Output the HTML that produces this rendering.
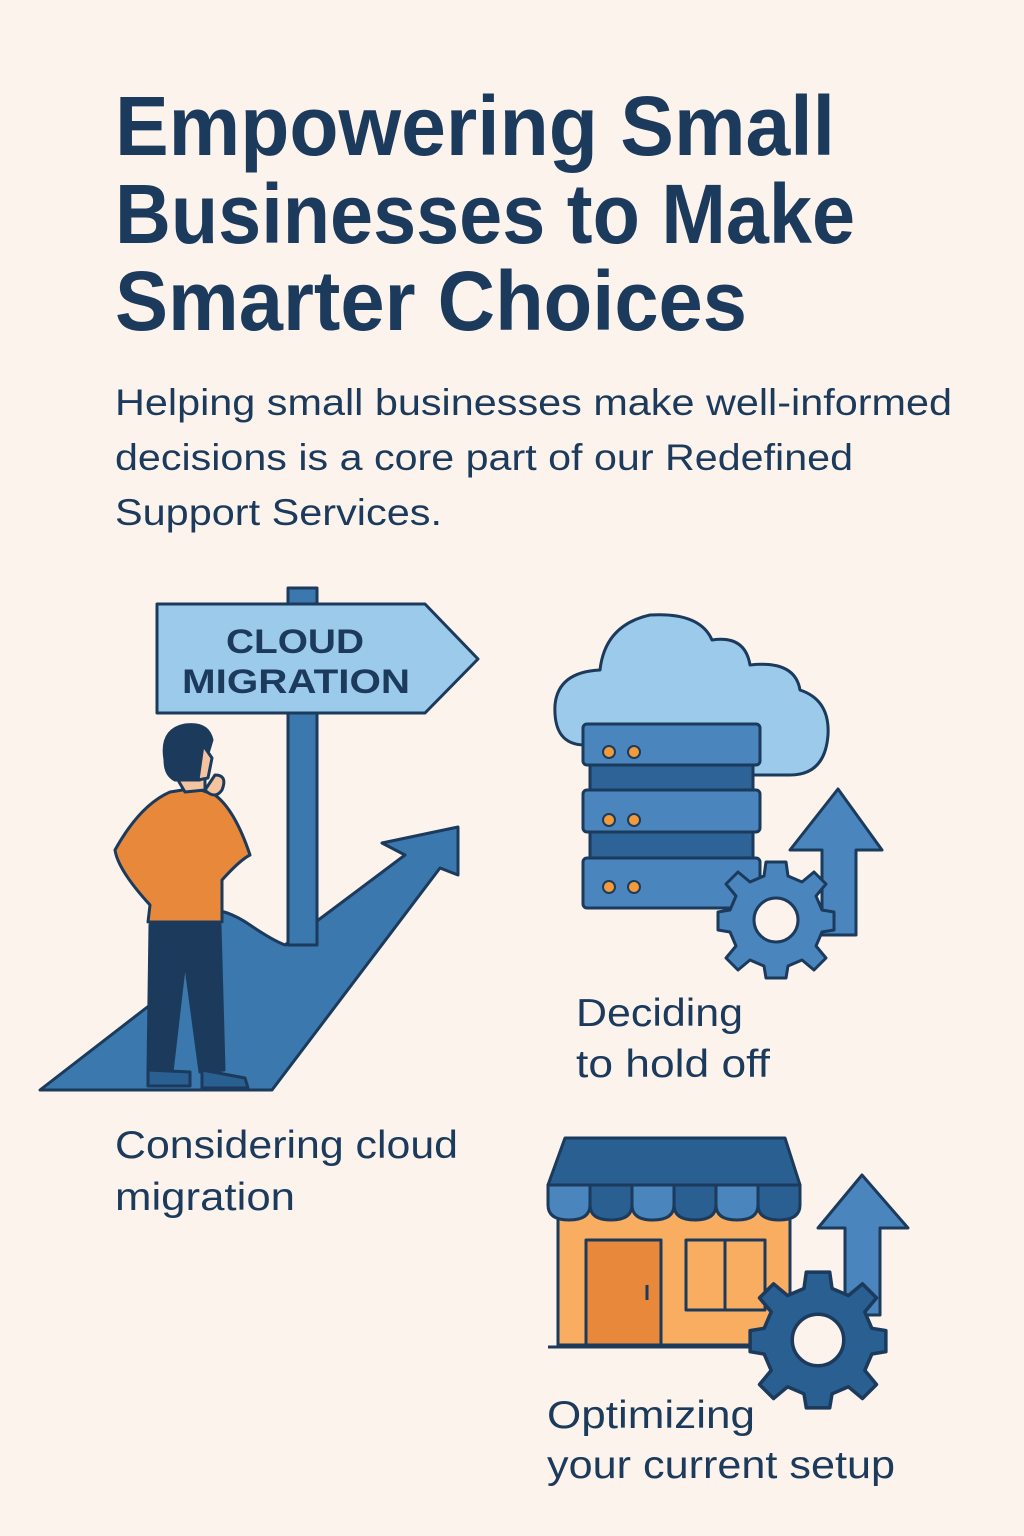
<!DOCTYPE html>
<html><head><meta charset="utf-8"><style>
html,body{margin:0;padding:0;background:#fcf4ec;}
svg{display:block;}
text{font-family:"Liberation Sans",sans-serif;fill:#1b3a5c;}
</style></head><body>
<svg width="1024" height="1536" viewBox="0 0 1024 1536" xmlns="http://www.w3.org/2000/svg">
<rect width="1024" height="1536" fill="#fcf4ec"/>
<g font-weight="bold" font-size="84">
<text x="115" y="155" textLength="720" lengthAdjust="spacingAndGlyphs">Empowering Small</text>
<text x="115" y="243" textLength="740" lengthAdjust="spacingAndGlyphs">Businesses to Make</text>
<text x="115" y="330" textLength="632" lengthAdjust="spacingAndGlyphs">Smarter Choices</text>
</g>
<g font-size="37">
<text x="115" y="415" textLength="837" lengthAdjust="spacingAndGlyphs">Helping small businesses make well-informed</text>
<text x="115" y="470" textLength="738" lengthAdjust="spacingAndGlyphs">decisions is a core part of our Redefined</text>
<text x="115" y="525" textLength="327" lengthAdjust="spacingAndGlyphs">Support Services.</text>
</g>
<g stroke="#1b3a5c" stroke-width="3" stroke-linejoin="round">
<!-- path -->
<path d="M40,1090 L150,1005 L150,930 Q200,890 250,925 Q272,940 285,945 L405,855 L382,843 L458,827 L458,875 L440,868 L272,1090 Z" fill="#3b78ad"/>
<!-- post -->
<rect x="288" y="588" width="29" height="357" fill="#3b78ad"/>
<!-- sign -->
<path d="M157,604 L425,604 L478,659 L425,713 L157,713 Z" fill="#9ccaea"/>
<!-- man -->
<path d="M150,925 L148,1070 L172,1072 L185,960 L200,1072 L224,1070 L220,925 Z" fill="#1b3a5c"/>
<path d="M148,1070 L190,1072 L190,1086 L148,1086 Z M202,1070 L245,1078 L248,1088 L202,1088 Z" fill="#2a5f92"/>
<path d="M170,792 Q140,805 115,850 Q118,870 150,905 L148,922 L222,922 L222,880 Q240,860 250,855 Q235,810 215,795 L195,788 Z" fill="#e8883a"/>
<path d="M205,790 Q215,800 222,790 Q228,775 215,775 Z" fill="#f4c4a0"/>
<path d="M175,775 L185,792 L205,790 L205,765 Z" fill="#f4c4a0"/>
<path d="M165,760 Q160,730 185,725 Q208,722 212,740 L200,780 L175,780 Q165,775 165,760 Z" fill="#1b3a5c"/>
<path d="M203,745 L212,758 L208,778 L198,780 Z" fill="#f4c4a0"/>
<!-- cloud -->
<path d="M585,745 Q553,745 555,705 Q558,672 600,670 Q605,625 650,615 Q700,612 712,640 Q745,635 750,665 Q795,660 800,690 Q830,700 828,735 Q825,775 790,775 L600,775 Z" fill="#9ccaea"/>
<!-- server -->
<rect x="583" y="724" width="177" height="41" rx="4" fill="#4a86bd"/>
<rect x="583" y="790" width="177" height="42" rx="4" fill="#4a86bd"/>
<rect x="583" y="858" width="177" height="50" rx="4" fill="#4a86bd"/>
<rect x="590" y="765" width="163" height="25" fill="#2d6397"/>
<rect x="590" y="832" width="163" height="26" fill="#2d6397"/>
<!-- arrow 1 -->
<path d="M838,789 L882,850 L856,850 L856,935 L822,935 L822,850 L790,850 Z" fill="#4a86bd"/>
<!-- gear 1 -->
<g transform="translate(776,920)" fill="#4a86bd">
<path d="M-10,-58 L10,-58 L12,-44 L26,-38 L38,-48 L50,-36 L40,-24 L46,-10 L58,-8 L58,10 L46,12 L40,26 L50,38 L38,50 L26,40 L12,46 L10,58 L-10,58 L-12,46 L-26,40 L-38,50 L-50,38 L-40,26 L-46,12 L-58,10 L-58,-8 L-46,-10 L-40,-24 L-50,-36 L-38,-48 L-26,-38 L-12,-44 Z"/>
<circle r="22" fill="#fcf4ec"/>
</g>
<!-- store -->
<rect x="558" y="1210" width="232" height="135" fill="#f9ad60"/>
<rect x="586" y="1240" width="75" height="105" fill="#e8883a"/>
<line x1="647" y1="1285" x2="647" y2="1300"/>
<rect x="686" y="1240" width="79" height="70" fill="#f9ad60"/>
<line x1="725" y1="1240" x2="725" y2="1310"/>
<line x1="548" y1="1347" x2="785" y2="1347"/>
<path d="M565,1138 L785,1138 L800,1185 L548,1185 Z" fill="#2a5f92"/>
<g fill="#4a86bd">
<path d="M548,1185 L590,1185 L590,1205 Q590,1220 569,1220 Q548,1220 548,1205 Z"/>
<path d="M590,1185 L632,1185 L632,1205 Q632,1220 611,1220 Q590,1220 590,1205 Z" fill="#2a5f92"/>
<path d="M632,1185 L674,1185 L674,1205 Q674,1220 653,1220 Q632,1220 632,1205 Z"/>
<path d="M674,1185 L716,1185 L716,1205 Q716,1220 695,1220 Q674,1220 674,1205 Z" fill="#2a5f92"/>
<path d="M716,1185 L758,1185 L758,1205 Q758,1220 737,1220 Q716,1220 716,1205 Z"/>
<path d="M758,1185 L800,1185 L800,1205 Q800,1220 779,1220 Q758,1220 758,1205 Z" fill="#2a5f92"/>
</g>
<!-- arrow 2 -->
<path d="M862,1175 L908,1228 L880,1228 L880,1315 L845,1315 L845,1228 L818,1228 Z" fill="#4a86bd"/>
<!-- gear 2 -->
<g transform="translate(818,1340) scale(1.17)" fill="#2a5f92">
<path d="M-10,-58 L10,-58 L12,-44 L26,-38 L38,-48 L50,-36 L40,-24 L46,-10 L58,-8 L58,10 L46,12 L40,26 L50,38 L38,50 L26,40 L12,46 L10,58 L-10,58 L-12,46 L-26,40 L-38,50 L-50,38 L-40,26 L-46,12 L-58,10 L-58,-8 L-46,-10 L-40,-24 L-50,-36 L-38,-48 L-26,-38 L-12,-44 Z"/>
<circle r="22" fill="#fcf4ec"/>
</g>
</g>
<g fill="#f39a3a" stroke="#1b3a5c" stroke-width="2">
<circle cx="609" cy="752" r="6"/><circle cx="634" cy="752" r="6"/>
<circle cx="609" cy="820" r="6"/><circle cx="634" cy="820" r="6"/>
<circle cx="609" cy="887" r="6"/><circle cx="634" cy="887" r="6"/>
</g>
<g font-weight="bold" font-size="34">
<text x="226" y="653" textLength="138" lengthAdjust="spacingAndGlyphs">CLOUD</text>
<text x="182" y="693" textLength="228" lengthAdjust="spacingAndGlyphs">MIGRATION</text>
</g>
<g font-size="39">
<text x="115" y="1158" textLength="343" lengthAdjust="spacingAndGlyphs">Considering cloud</text>
<text x="115" y="1210" textLength="180" lengthAdjust="spacingAndGlyphs">migration</text>
<text x="576" y="1026" textLength="167" lengthAdjust="spacingAndGlyphs">Deciding</text>
<text x="576" y="1077" textLength="194" lengthAdjust="spacingAndGlyphs">to hold off</text>
<text x="547" y="1428" textLength="208" lengthAdjust="spacingAndGlyphs">Optimizing</text>
<text x="547" y="1478" textLength="348" lengthAdjust="spacingAndGlyphs">your current setup</text>
</g>
</svg>
</body></html>
